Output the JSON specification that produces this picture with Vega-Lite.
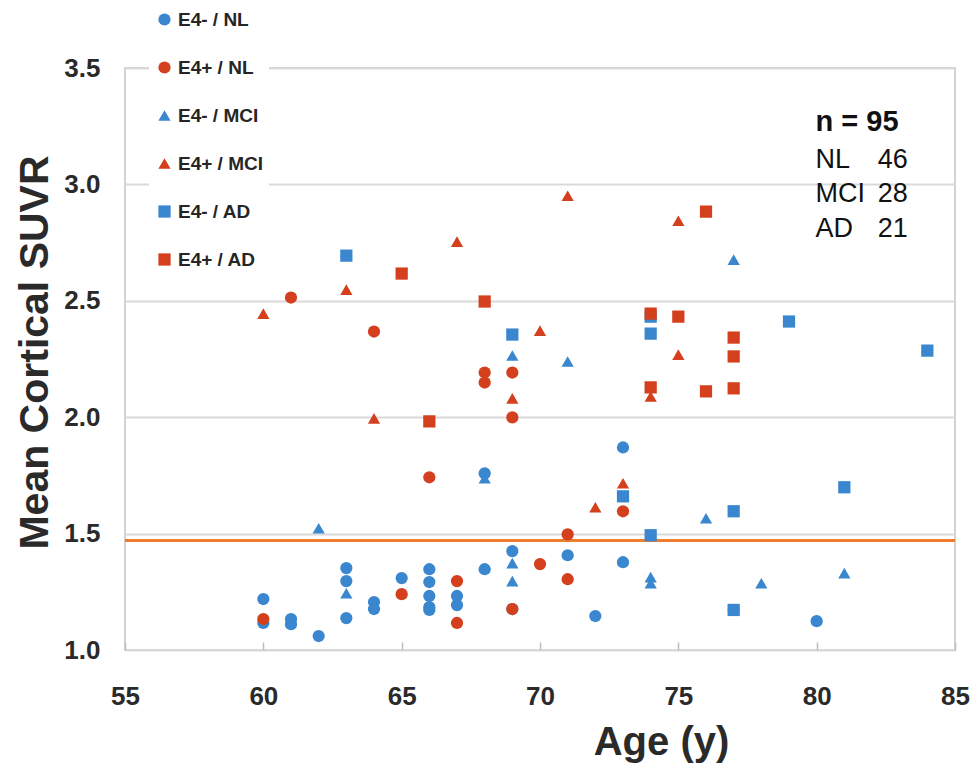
{
  "$schema": "https://vega.github.io/schema/vega-lite/v6.json",
  "width": 830,
  "height": 582,
  "autosize": {"type": "none"},
  "padding": {"left": 125, "top": 68, "right": 18, "bottom": 116},
  "background": "white",
  "config": {
    "view": {"stroke": "#d3d3d3", "strokeWidth": 2},
    "font": "Liberation Sans"
  },
  "layer": [
    {
      "data": {"values": [{"t": 1.47}]},
      "mark": {"type": "rule", "color": "#ee7d2d", "strokeWidth": 3},
      "encoding": {"y": {"field": "t", "type": "quantitative"}}
    },
    {
      "data": {
        "values": [
          {"age": 60, "suvr": 1.219, "group": "E4- / NL"},
          {"age": 60, "suvr": 1.116, "group": "E4- / NL"},
          {"age": 61, "suvr": 1.133, "group": "E4- / NL"},
          {"age": 61, "suvr": 1.111, "group": "E4- / NL"},
          {"age": 62, "suvr": 1.06, "group": "E4- / NL"},
          {"age": 63, "suvr": 1.352, "group": "E4- / NL"},
          {"age": 63, "suvr": 1.296, "group": "E4- / NL"},
          {"age": 63, "suvr": 1.137, "group": "E4- / NL"},
          {"age": 64, "suvr": 1.206, "group": "E4- / NL"},
          {"age": 64, "suvr": 1.176, "group": "E4- / NL"},
          {"age": 65, "suvr": 1.309, "group": "E4- / NL"},
          {"age": 66, "suvr": 1.347, "group": "E4- / NL"},
          {"age": 66, "suvr": 1.292, "group": "E4- / NL"},
          {"age": 66, "suvr": 1.232, "group": "E4- / NL"},
          {"age": 66, "suvr": 1.184, "group": "E4- / NL"},
          {"age": 66, "suvr": 1.172, "group": "E4- / NL"},
          {"age": 67, "suvr": 1.232, "group": "E4- / NL"},
          {"age": 67, "suvr": 1.193, "group": "E4- / NL"},
          {"age": 68, "suvr": 1.759, "group": "E4- / NL"},
          {"age": 68, "suvr": 1.347, "group": "E4- / NL"},
          {"age": 69, "suvr": 1.425, "group": "E4- / NL"},
          {"age": 69, "suvr": 1.176, "group": "E4- / NL"},
          {"age": 71, "suvr": 1.407, "group": "E4- / NL"},
          {"age": 72, "suvr": 1.146, "group": "E4- / NL"},
          {"age": 73, "suvr": 1.87, "group": "E4- / NL"},
          {"age": 73, "suvr": 1.377, "group": "E4- / NL"},
          {"age": 77, "suvr": 1.172, "group": "E4- / NL"},
          {"age": 80, "suvr": 1.124, "group": "E4- / NL"},
          {"age": 60, "suvr": 1.133, "group": "E4+ / NL"},
          {"age": 61, "suvr": 2.514, "group": "E4+ / NL"},
          {"age": 64, "suvr": 2.368, "group": "E4+ / NL"},
          {"age": 65, "suvr": 1.24, "group": "E4+ / NL"},
          {"age": 66, "suvr": 1.742, "group": "E4+ / NL"},
          {"age": 67, "suvr": 1.296, "group": "E4+ / NL"},
          {"age": 67, "suvr": 1.116, "group": "E4+ / NL"},
          {"age": 68, "suvr": 2.192, "group": "E4+ / NL"},
          {"age": 68, "suvr": 2.149, "group": "E4+ / NL"},
          {"age": 69, "suvr": 2.192, "group": "E4+ / NL"},
          {"age": 69, "suvr": 1.999, "group": "E4+ / NL"},
          {"age": 69, "suvr": 1.176, "group": "E4+ / NL"},
          {"age": 70, "suvr": 1.369, "group": "E4+ / NL"},
          {"age": 71, "suvr": 1.497, "group": "E4+ / NL"},
          {"age": 71, "suvr": 1.304, "group": "E4+ / NL"},
          {"age": 73, "suvr": 1.596, "group": "E4+ / NL"},
          {"age": 62, "suvr": 1.523, "group": "E4- / MCI"},
          {"age": 63, "suvr": 1.244, "group": "E4- / MCI"},
          {"age": 68, "suvr": 1.738, "group": "E4- / MCI"},
          {"age": 69, "suvr": 2.265, "group": "E4- / MCI"},
          {"age": 69, "suvr": 1.373, "group": "E4- / MCI"},
          {"age": 69, "suvr": 1.296, "group": "E4- / MCI"},
          {"age": 71, "suvr": 2.239, "group": "E4- / MCI"},
          {"age": 74, "suvr": 1.313, "group": "E4- / MCI"},
          {"age": 74, "suvr": 1.287, "group": "E4- / MCI"},
          {"age": 76, "suvr": 1.566, "group": "E4- / MCI"},
          {"age": 77, "suvr": 2.677, "group": "E4- / MCI"},
          {"age": 78, "suvr": 1.287, "group": "E4- / MCI"},
          {"age": 81, "suvr": 1.33, "group": "E4- / MCI"},
          {"age": 60, "suvr": 2.445, "group": "E4+ / MCI"},
          {"age": 63, "suvr": 2.548, "group": "E4+ / MCI"},
          {"age": 64, "suvr": 1.995, "group": "E4+ / MCI"},
          {"age": 67, "suvr": 2.754, "group": "E4+ / MCI"},
          {"age": 69, "suvr": 2.081, "group": "E4+ / MCI"},
          {"age": 70, "suvr": 2.372, "group": "E4+ / MCI"},
          {"age": 71, "suvr": 2.951, "group": "E4+ / MCI"},
          {"age": 72, "suvr": 1.613, "group": "E4+ / MCI"},
          {"age": 73, "suvr": 1.716, "group": "E4+ / MCI"},
          {"age": 74, "suvr": 2.089, "group": "E4+ / MCI"},
          {"age": 75, "suvr": 2.844, "group": "E4+ / MCI"},
          {"age": 75, "suvr": 2.269, "group": "E4+ / MCI"},
          {"age": 63, "suvr": 2.694, "group": "E4- / AD"},
          {"age": 69, "suvr": 2.355, "group": "E4- / AD"},
          {"age": 73, "suvr": 1.66, "group": "E4- / AD"},
          {"age": 74, "suvr": 2.432, "group": "E4- / AD"},
          {"age": 74, "suvr": 2.359, "group": "E4- / AD"},
          {"age": 74, "suvr": 1.493, "group": "E4- / AD"},
          {"age": 77, "suvr": 1.596, "group": "E4- / AD"},
          {"age": 77, "suvr": 1.172, "group": "E4- / AD"},
          {"age": 79, "suvr": 2.411, "group": "E4- / AD"},
          {"age": 81, "suvr": 1.699, "group": "E4- / AD"},
          {"age": 84, "suvr": 2.286, "group": "E4- / AD"},
          {"age": 65, "suvr": 2.617, "group": "E4+ / AD"},
          {"age": 66, "suvr": 1.982, "group": "E4+ / AD"},
          {"age": 68, "suvr": 2.497, "group": "E4+ / AD"},
          {"age": 74, "suvr": 2.445, "group": "E4+ / AD"},
          {"age": 74, "suvr": 2.128, "group": "E4+ / AD"},
          {"age": 75, "suvr": 2.432, "group": "E4+ / AD"},
          {"age": 76, "suvr": 2.883, "group": "E4+ / AD"},
          {"age": 76, "suvr": 2.111, "group": "E4+ / AD"},
          {"age": 77, "suvr": 2.342, "group": "E4+ / AD"},
          {"age": 77, "suvr": 2.261, "group": "E4+ / AD"},
          {"age": 77, "suvr": 2.124, "group": "E4+ / AD"}
        ]
      },
      "mark": {"type": "point", "filled": true, "opacity": 1, "strokeWidth": 0},
      "encoding": {
        "x": {
          "field": "age", "type": "quantitative",
          "scale": {"domain": [55, 85], "nice": false, "zero": false},
          "axis": {
            "title": "Age (y)", "values": [55, 60, 65, 70, 75, 80, 85],
            "grid": false, "domain": false, "labelFlush": false,
            "tickSize": -8, "tickColor": "#bdbdbd", "tickWidth": 1.5,
            "labelPadding": 41, "labelFontSize": 26, "labelFontWeight": "bold", "labelColor": "#2a2a2a",
            "titleFontSize": 40, "titleFontWeight": "bold", "titleColor": "#2a2a2a",
            "titleX": 536, "titleY": 104, "titleBaseline": "alphabetic"
          }
        },
        "y": {
          "field": "suvr", "type": "quantitative",
          "scale": {"domain": [1, 3.5], "nice": false, "zero": false},
          "axis": {
            "title": "Mean Cortical SUVR", "values": [1, 1.5, 2, 2.5, 3, 3.5], "format": ".1f",
            "grid": true, "gridColor": "#d9d9d9", "gridWidth": 2,
            "domain": false, "ticks": false, "tickSize": 0, "labelFlush": false,
            "labelPadding": 25, "labelFontSize": 26, "labelFontWeight": "bold", "labelColor": "#2a2a2a",
            "titleFontSize": 41, "titleFontWeight": "bold", "titleColor": "#2a2a2a",
            "titleX": -90, "titleY": 284, "titleAngle": -90, "titleBaseline": "middle"
          }
        },
        "color": {
          "field": "group", "type": "nominal",
          "scale": {
            "domain": ["E4- / NL", "E4+ / NL", "E4- / MCI", "E4+ / MCI", "E4- / AD", "E4+ / AD"],
            "range": ["#3a87cf", "#d4401e", "#3a87cf", "#d4401e", "#3a87cf", "#d4401e"]
          },
          "legend": {
            "title": null, "orient": "none", "legendX": 24, "legendY": -64,
            "fillColor": "white", "padding": 6, "rowPadding": 28,
            "labelFontSize": 19, "labelFontWeight": "bold", "labelColor": "#262626",
            "symbolSize": 55, "labelOffset": 4, "symbolStrokeWidth": 0
          }
        },
        "shape": {
          "field": "group", "type": "nominal",
          "scale": {
            "domain": ["E4- / NL", "E4+ / NL", "E4- / MCI", "E4+ / MCI", "E4- / AD", "E4+ / AD"],
            "range": ["circle", "circle", "triangle-up", "triangle-up", "square", "square"]
          },
          "legend": {
            "title": null, "orient": "none", "legendX": 24, "legendY": -64,
            "fillColor": "white", "padding": 6, "rowPadding": 28,
            "labelFontSize": 19, "labelFontWeight": "bold", "labelColor": "#262626",
            "symbolSize": 55, "labelOffset": 4, "symbolStrokeWidth": 0
          }
        },
        "size": {
          "field": "group", "type": "nominal",
          "scale": {
            "domain": ["E4- / NL", "E4+ / NL", "E4- / MCI", "E4+ / MCI", "E4- / AD", "E4+ / AD"],
            "range": [150, 150, 130, 130, 120, 120]
          },
          "legend": null
        }
      }
    },
    {
      "data": {"values": [{}]},
      "mark": {"type": "text", "fontSize": 29, "fontWeight": "bold", "align": "left", "baseline": "middle", "color": "#111111"},
      "encoding": {"x": {"datum": 79.96}, "y": {"datum": 3.268}, "text": {"value": "n = 95"}}
    },
    {
      "data": {"values": [{}]},
      "mark": {"type": "text", "fontSize": 27, "align": "left", "baseline": "middle", "color": "#111111"},
      "encoding": {"x": {"datum": 79.96}, "y": {"datum": 3.105}, "text": {"value": "NL"}}
    },
    {
      "data": {"values": [{}]},
      "mark": {"type": "text", "fontSize": 27, "align": "left", "baseline": "middle", "color": "#111111"},
      "encoding": {"x": {"datum": 79.96}, "y": {"datum": 2.96}, "text": {"value": "MCI"}}
    },
    {
      "data": {"values": [{}]},
      "mark": {"type": "text", "fontSize": 27, "align": "left", "baseline": "middle", "color": "#111111"},
      "encoding": {"x": {"datum": 79.96}, "y": {"datum": 2.81}, "text": {"value": "AD"}}
    },
    {
      "data": {"values": [{}]},
      "mark": {"type": "text", "fontSize": 27, "align": "right", "baseline": "middle", "color": "#111111"},
      "encoding": {"x": {"datum": 83.29}, "y": {"datum": 3.105}, "text": {"value": "46"}}
    },
    {
      "data": {"values": [{}]},
      "mark": {"type": "text", "fontSize": 27, "align": "right", "baseline": "middle", "color": "#111111"},
      "encoding": {"x": {"datum": 83.29}, "y": {"datum": 2.96}, "text": {"value": "28"}}
    },
    {
      "data": {"values": [{}]},
      "mark": {"type": "text", "fontSize": 27, "align": "right", "baseline": "middle", "color": "#111111"},
      "encoding": {"x": {"datum": 83.29}, "y": {"datum": 2.81}, "text": {"value": "21"}}
    }
  ]
}
